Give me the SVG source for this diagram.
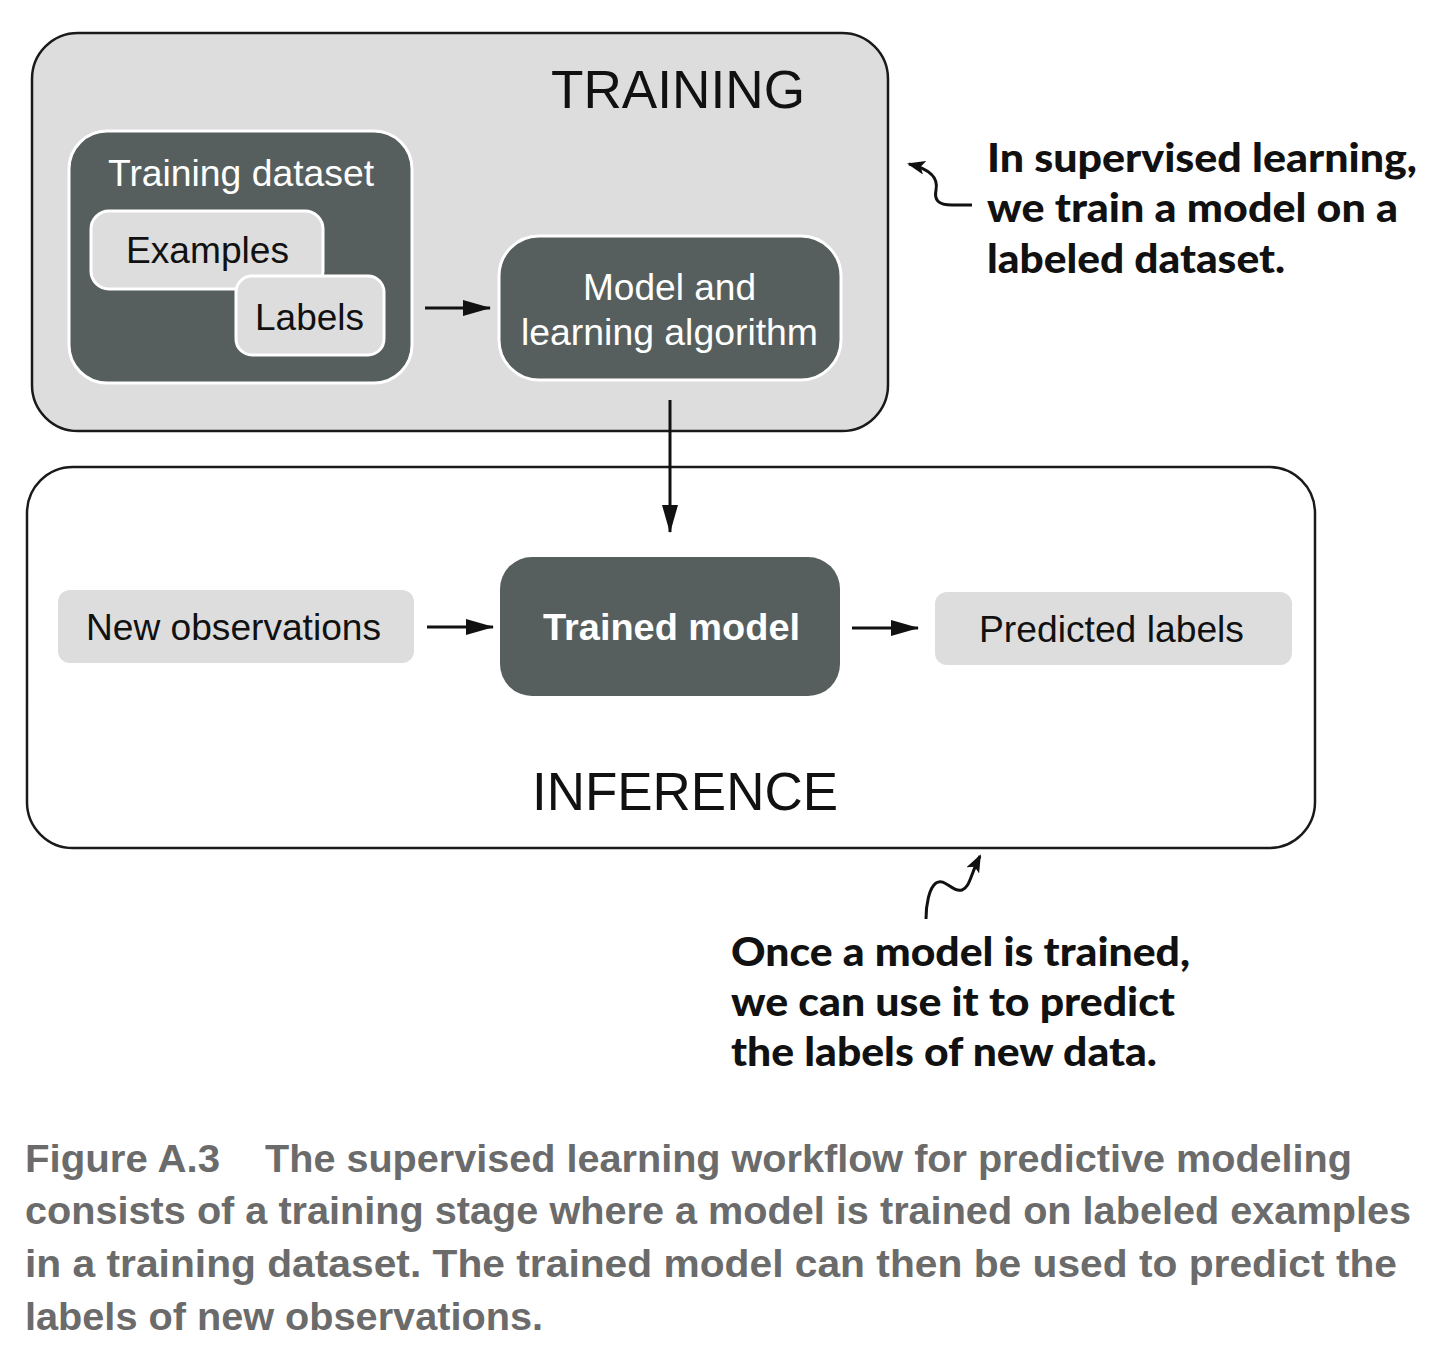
<svg xmlns="http://www.w3.org/2000/svg" width="1440" height="1362" viewBox="0 0 1440 1362">
<defs>
<style>
.lbl{font-family:"Liberation Sans",Arial,sans-serif;font-size:36px;fill:#111}
.wl{font-family:"Liberation Sans",Arial,sans-serif;font-size:36px;fill:#fff}
.big{font-family:"Liberation Sans",Arial,sans-serif;font-size:53px;fill:#111}
.note{font-family:Lato,"Open Sans",sans-serif;font-weight:900;font-size:40px;fill:#111}
.cap{font-family:"Liberation Sans",Arial,sans-serif;font-weight:bold;font-size:38px;fill:#6b6b6b}
.dark{fill:#575f5e;stroke:#fff;stroke-width:3}
.light{fill:#dcdddc;stroke:#fff;stroke-width:3}
.conn{stroke:#111;stroke-width:3;fill:none}
</style>
<marker id="ah" viewBox="0 0 28 16" refX="27" refY="8" markerWidth="28" markerHeight="16" markerUnits="userSpaceOnUse" orient="auto">
<path d="M0,0 L28,8 L0,16 z" fill="#111"/>
</marker>
<marker id="ah2" viewBox="0 0 18 14" refX="16" refY="7" markerWidth="18" markerHeight="14" markerUnits="userSpaceOnUse" orient="auto">
<path d="M0,0 L18,7 L0,14 L4,7 z" fill="#111"/>
</marker>
</defs>
<rect width="1440" height="1362" fill="#fff"/>

<g id="training">
<rect x="32" y="33" width="856" height="398" rx="46" fill="#dcdddc" stroke="#1a1a1a" stroke-width="2.5"/>
<text class="big" x="551" y="108" textLength="254" lengthAdjust="spacingAndGlyphs">TRAINING</text>
</g>
<g id="training-dataset">
<rect class="dark" x="69" y="131" width="343" height="252" rx="38"/>
<text class="wl" x="108" y="186" textLength="266" lengthAdjust="spacingAndGlyphs">Training dataset</text>
</g>
<g id="examples">
<rect class="light" x="91" y="211" width="232" height="78" rx="18"/>
<text class="lbl" x="126" y="263" textLength="163" lengthAdjust="spacingAndGlyphs">Examples</text>
</g>
<g id="labels">
<rect class="light" x="236" y="276" width="148" height="79" rx="16"/>
<text class="lbl" x="255" y="330" textLength="109" lengthAdjust="spacingAndGlyphs">Labels</text>
</g>
<g id="model-algorithm">
<rect class="dark" x="499" y="236" width="342" height="144" rx="40"/>
<text class="wl" x="583" y="300" textLength="173" lengthAdjust="spacingAndGlyphs">Model and</text>
<text class="wl" x="521" y="345" textLength="297" lengthAdjust="spacingAndGlyphs">learning algorithm</text>
</g>

<g id="inference">
<rect x="27" y="467" width="1288" height="381" rx="46" fill="#fff" stroke="#1a1a1a" stroke-width="2.5"/>
<text class="big" x="532" y="810" textLength="306" lengthAdjust="spacingAndGlyphs">INFERENCE</text>
</g>
<g id="new-observations">
<rect x="58" y="590" width="356" height="73" rx="12" fill="#dcdddc"/>
<text class="lbl" x="86" y="640" textLength="295" lengthAdjust="spacingAndGlyphs">New observations</text>
</g>
<g id="trained-model">
<rect x="500" y="557" width="340" height="139" rx="32" fill="#575f5e"/>
<text class="wl" x="543" y="640" font-weight="bold" textLength="257" lengthAdjust="spacingAndGlyphs">Trained model</text>
</g>
<g id="predicted-labels">
<rect x="935" y="592" width="357" height="73" rx="12" fill="#dcdddc"/>
<text class="lbl" x="979" y="642" textLength="265" lengthAdjust="spacingAndGlyphs">Predicted labels</text>
</g>

<g id="connectors">
<line class="conn" x1="425" y1="308" x2="490" y2="308" marker-end="url(#ah)"/>
<line class="conn" x1="670" y1="400" x2="670" y2="532" stroke-width="2.5" marker-end="url(#ah)"/>
<line class="conn" x1="427" y1="627" x2="493" y2="627" marker-end="url(#ah)"/>
<line class="conn" x1="852" y1="628" x2="918" y2="628" marker-end="url(#ah)"/>
<path class="conn" stroke-width="1.8" d="M972,205 L952,205 C938,205 934,200 936,190 C938,180 934,170 909,164" marker-end="url(#ah2)"/>
<path class="conn" stroke-width="1.8" d="M926,919 C926,905 929,888 936,883 C945,877 952,893 962,890 C970,887 970,876 980,856" marker-end="url(#ah2)"/>
</g>

<g id="note-training">
<text class="note" x="987" y="172" textLength="430" lengthAdjust="spacingAndGlyphs">In supervised learning,</text>
<text class="note" x="987" y="222" textLength="411" lengthAdjust="spacingAndGlyphs">we train a model on a</text>
<text class="note" x="987" y="273" textLength="298" lengthAdjust="spacingAndGlyphs">labeled dataset.</text>
</g>
<g id="note-inference">
<text class="note" x="731" y="966" textLength="459" lengthAdjust="spacingAndGlyphs">Once a model is trained,</text>
<text class="note" x="731" y="1016" textLength="444" lengthAdjust="spacingAndGlyphs">we can use it to predict</text>
<text class="note" x="731" y="1066" textLength="426" lengthAdjust="spacingAndGlyphs">the labels of new data.</text>
</g>

<g id="caption">
<text class="cap" x="25" y="1172" textLength="195" lengthAdjust="spacingAndGlyphs">Figure A.3</text>
<text class="cap" x="265" y="1172" textLength="1087" lengthAdjust="spacingAndGlyphs">The supervised learning workflow for predictive modeling</text>
<text class="cap" x="25" y="1224" textLength="1386" lengthAdjust="spacingAndGlyphs">consists of a training stage where a model is trained on labeled examples</text>
<text class="cap" x="25" y="1277" textLength="1372" lengthAdjust="spacingAndGlyphs">in a training dataset. The trained model can then be used to predict the</text>
<text class="cap" x="25" y="1330" textLength="518" lengthAdjust="spacingAndGlyphs">labels of new observations.</text>
</g>
</svg>
